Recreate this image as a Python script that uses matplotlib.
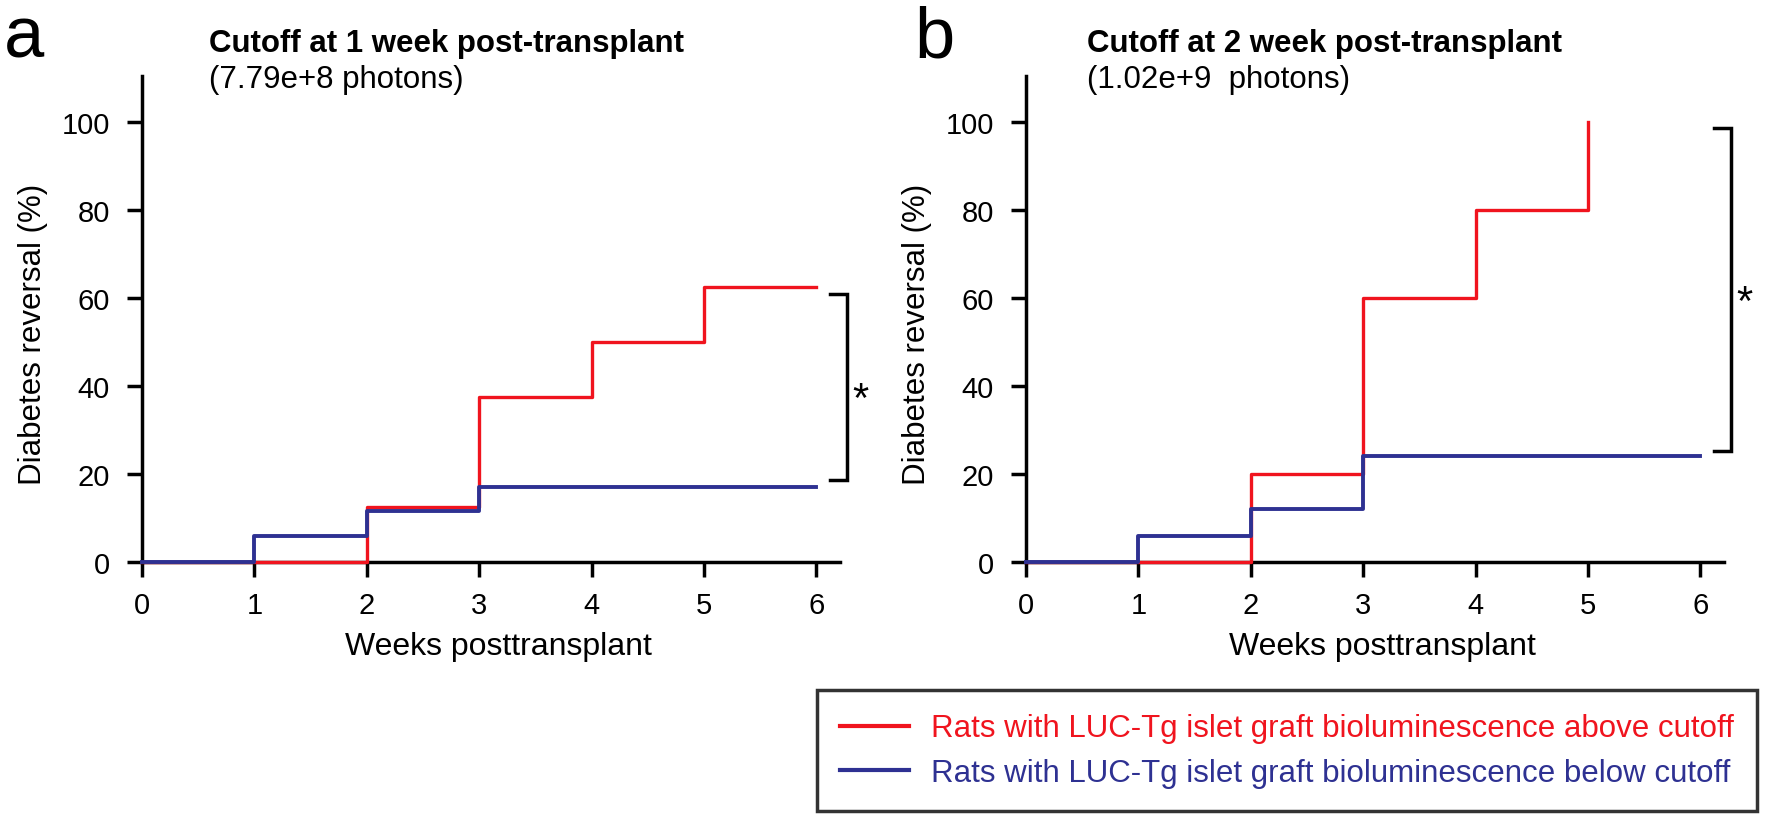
import matplotlib
matplotlib.use('Agg')
import matplotlib.pyplot as plt
from matplotlib.lines import Line2D

plt.rcParams['font.family'] = ['Liberation Sans', 'DejaVu Sans']

# data
weeks = [0, 1, 2, 3, 4, 5, 6]
above_a = [0, 0, 12.5, 37.5, 50, 62.5, 62.5]
below_a = [0, 5.9, 11.5, 17, 17, 17, 17]

weeks_b_above = [0, 1, 2, 3, 4, 5]
above_b = [0, 0, 20, 60, 80, 100]
below_b = [0, 6, 12, 24, 24, 24, 24]

titles = ['Cutoff at 1 week post-transplant', 'Cutoff at 2 week post-transplant']
subtitles = ['(7.79e+8 photons)', '(1.02e+9  photons)']
letters = ['a', 'b']
# significance brackets (bottom, top) per panel
brackets = [(18.6, 61), (25.2, 98.6)]

red = '#f0141e'
blue = '#2e3192'

W, H = 1768, 820
fig = plt.figure(figsize=(W / 100, H / 100), dpi=100)

ax_left = [142, 1026]
title_x = [209, 1087]
letter_x = [4, 914]
axes = []
for i in range(2):
    ax = fig.add_axes([ax_left[i] / W, 257 / H, 698 / W, 486 / H])
    axes.append(ax)

series = [((weeks, above_a), (weeks, below_a)),
          ((weeks_b_above, above_b), (weeks, below_b))]

for i, ax in enumerate(axes):
    (xr, yr), (xb, yb) = series[i]
    ax.step(xr, yr, where='post', color=red, lw=2.4, clip_on=False, zorder=3)
    ax.step(xb, yb, where='post', color=blue, lw=2.8, clip_on=False, zorder=4)

    ax.set_xlim(0, 6.21)
    ax.set_ylim(0, 110.5)
    ax.set_xticks(range(0, 7))
    ax.set_yticks(range(0, 101, 20))
    for s in ['top', 'right']:
        ax.spines[s].set_visible(False)
    for s in ['left', 'bottom']:
        ax.spines[s].set_linewidth(2.5)
    ax.tick_params(direction='out', length=11, width=2.5, labelsize=21, pad=10)
    ax.tick_params(axis='y', pad=12)

    ax.set_ylabel('Diabetes reversal (%)', fontsize=22.5, va='center')
    ax.set_xlabel('Weeks posttransplant', fontsize=23, va='center')
    ax.yaxis.set_label_coords(-0.156, 0.471)
    ax.xaxis.set_label_coords(0.51, -0.173)

    lo, hi = brackets[i]
    ax.plot([6.12, 6.27, 6.27, 6.12], [hi, hi, lo, lo], color='black', lw=2.5,
            clip_on=False, solid_joinstyle='miter')
    ax.text(6.39, (lo + hi) / 2 - 3, '*', fontsize=30, ha='center', va='center')

    fig.text(title_x[i] / W, 1 - 52 / H, titles[i], fontsize=22.5, fontweight='bold',
             va='baseline', ha='left')
    fig.text(title_x[i] / W, 1 - 88 / H, subtitles[i], fontsize=22.5,
             va='baseline', ha='left')
    fig.text(letter_x[i] / W, 1 - 58 / H, letters[i], fontsize=52,
             va='baseline', ha='left')

handles = [Line2D([], [], color=red, lw=3),
           Line2D([], [], color=blue, lw=3)]
labels = ['Rats with LUC-Tg islet graft bioluminescence above cutoff',
          'Rats with LUC-Tg islet graft bioluminescence below cutoff']
leg = fig.legend(handles, labels, loc='lower left',
                 bbox_to_anchor=(817 / W, 8 / H, 943 / W, 122 / H),
                 fontsize=22.5, labelcolor='linecolor', frameon=True, fancybox=False,
                 handlelength=2.2, handletextpad=0.7, borderpad=0.75, labelspacing=0.45,
                 borderaxespad=0)
leg.get_frame().set_edgecolor('black')
leg.get_frame().set_linewidth(2.5)

fig.savefig('out.png', dpi=100)
